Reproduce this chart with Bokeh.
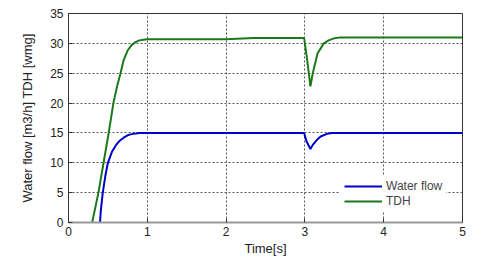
from bokeh.plotting import figure
from bokeh.models import Legend, LegendItem, Range1d, FixedTicker
from bokeh.embed import file_html
from bokeh.resources import INLINE

# TDH [wmg]
tdh_t = [0.30, 0.38, 0.445, 0.51, 0.57, 0.62, 0.66, 0.70, 0.75, 0.80, 0.85, 0.90, 0.95, 1.00,
         2.00, 2.35, 2.99, 3.03, 3.07, 3.10, 3.16, 3.24, 3.30, 3.36, 3.45, 3.60, 5.00]
tdh_v = [0.0, 5.0, 10.0, 15.0, 20.0, 23.0, 25.0, 27.2, 28.8, 29.7, 30.2, 30.5, 30.6, 30.7,
         30.7, 30.9, 30.9, 27.1, 22.8, 25.0, 28.3, 30.0, 30.5, 30.8, 31.0, 31.0, 31.0]

# Water flow [m3/h]
flow_t = [0.40, 0.41, 0.435, 0.47, 0.50, 0.55, 0.60, 0.65, 0.70, 0.75, 0.80, 0.90, 2.99,
          3.02, 3.07, 3.10, 3.15, 3.20, 3.28, 3.35, 5.00]
flow_v = [0.0, 2.0, 5.0, 8.0, 10.0, 11.8, 12.9, 13.7, 14.2, 14.6, 14.8, 15.0, 15.0,
          13.6, 12.3, 13.0, 13.8, 14.4, 14.85, 15.0, 15.0]

x_ticks = [0, 1, 2, 3, 4, 5]
y_ticks = [0, 5, 10, 15, 20, 25, 30, 35]

FONT = "Liberation Sans"

p = figure(width=480, height=258, output_backend="svg", toolbar_location=None,
           x_range=Range1d(0, 5), y_range=Range1d(0, 35),
           min_border_left=68, min_border_right=18, min_border_top=13, min_border_bottom=36)
p.outline_line_color = "#333333"
p.outline_line_width = 1
p.background_fill_color = "white"
p.border_fill_color = "white"

for ax in (p.xaxis[0], p.yaxis[0]):
    ax.major_label_text_font = FONT
    ax.major_label_text_font_size = "12px"
    ax.major_label_text_color = "#222222"
    ax.axis_label_text_font = FONT
    ax.axis_label_text_font_size = "13px"
    ax.axis_label_text_font_style = "normal"
    ax.axis_label_text_color = "#222222"
    ax.major_tick_in = 4
    ax.major_tick_out = 0
    ax.minor_tick_line_color = None
    ax.major_tick_line_color = "#333333"

p.xaxis.ticker = FixedTicker(ticks=x_ticks)
p.yaxis.ticker = FixedTicker(ticks=y_ticks)
p.xaxis.axis_label = "Time[s]"
p.yaxis.axis_label = "Water flow [m3/h] TDH [wmg]"
p.xaxis.axis_label_standoff = 2
p.yaxis.axis_label_standoff = 12
p.xaxis.major_label_standoff = 4
p.yaxis.major_label_standoff = 5
p.xaxis.axis_line_color = "#999999"
p.xaxis.axis_line_width = 2
p.yaxis.axis_line_color = "#333333"

p.grid.grid_line_color = "#555555"
p.grid.grid_line_dash = "2 2"
p.grid.grid_line_width = 1

r1 = p.line(flow_t, flow_v, line_color="#0000cc", line_width=2)
r2 = p.line(tdh_t, tdh_v, line_color="#1a7a1a", line_width=2)

legend = Legend(items=[LegendItem(label="Water flow", renderers=[r1]),
                       LegendItem(label="TDH", renderers=[r2])],
                location=(272, 10), border_line_alpha=0, background_fill_color="white",
                background_fill_alpha=1, glyph_width=38, glyph_height=14,
                label_text_font=FONT, label_text_font_size="12px",
                label_standoff=4, spacing=1, padding=4, margin=0,
                label_height=14)
p.add_layout(legend, "center")

open("out.html", "w").write(file_html(p, INLINE))
